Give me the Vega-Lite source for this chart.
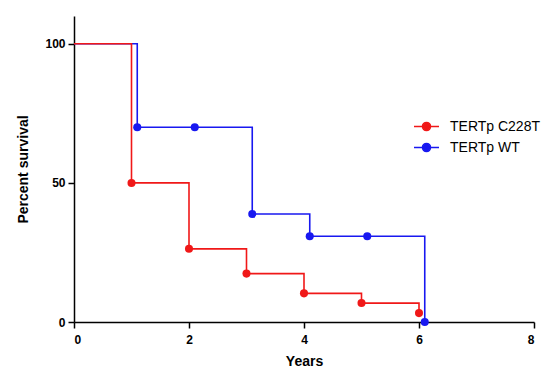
{
  "$schema": "https://vega.github.io/schema/vega-lite/v6.json",
  "width": 460,
  "height": 306,
  "autosize": {"type": "none"},
  "padding": {"left": 74, "top": 16, "right": 24, "bottom": 49},
  "background": "white",
  "config": {
    "view": {"stroke": null},
    "font": "Liberation Sans",
    "axis": {
      "grid": false,
      "domainColor": "black",
      "domainWidth": 1.5,
      "tickColor": "black",
      "tickWidth": 1.5,
      "tickSize": 6,
      "labelFont": "Liberation Sans",
      "labelFontWeight": "bold",
      "labelFontSize": 12,
      "labelColor": "black",
      "titleFont": "Liberation Sans",
      "titleFontWeight": "bold",
      "titleFontSize": 14,
      "titleColor": "black"
    }
  },
  "data": {
    "values": [
      {"group": "TERTp WT", "x": 0, "y": 100, "pt": false},
      {"group": "TERTp WT", "x": 1.1, "y": 70, "pt": true},
      {"group": "TERTp WT", "x": 2.1, "y": 70, "pt": true},
      {"group": "TERTp WT", "x": 3.1, "y": 38.8, "pt": true},
      {"group": "TERTp WT", "x": 4.1, "y": 30.8, "pt": true},
      {"group": "TERTp WT", "x": 5.1, "y": 30.8, "pt": true},
      {"group": "TERTp WT", "x": 6.1, "y": 0, "pt": true},
      {"group": "TERTp C228T", "x": 0, "y": 100, "pt": false},
      {"group": "TERTp C228T", "x": 1, "y": 50, "pt": true},
      {"group": "TERTp C228T", "x": 2, "y": 26.3, "pt": true},
      {"group": "TERTp C228T", "x": 3, "y": 17.4, "pt": true},
      {"group": "TERTp C228T", "x": 4, "y": 10.3, "pt": true},
      {"group": "TERTp C228T", "x": 5, "y": 6.8, "pt": true},
      {"group": "TERTp C228T", "x": 6, "y": 3.2, "pt": true}
    ]
  },
  "encoding": {
    "x": {
      "field": "x", "type": "quantitative",
      "scale": {"domain": [0, 8], "nice": false, "zero": false},
      "axis": {"values": [0, 2, 4, 6, 8], "title": "Years", "titlePadding": 9, "labelPadding": 6}
    },
    "y": {
      "field": "y", "type": "quantitative",
      "scale": {"domain": [0, 110], "nice": false},
      "axis": {"values": [0, 50, 100], "title": "Percent survival", "titlePadding": 14, "labelPadding": 3}
    },
    "color": {
      "field": "group", "type": "nominal",
      "scale": {"domain": ["TERTp C228T", "TERTp WT"], "range": ["#f01818", "#1818f0"]},
      "legend": {
        "title": null,
        "orient": "none",
        "legendX": 339,
        "legendY": 97,
        "symbolType": "M-1,0L1,0M-0.32,0A0.32,0.32 0 1,1 0.32,0A0.32,0.32 0 1,1 -0.32,0Z",
        "symbolSize": 625,
        "symbolStrokeWidth": 1.6,
        "labelFontSize": 14,
        "labelFont": "Liberation Sans",
        "labelColor": "black",
        "labelOffset": 10,
        "rowPadding": 0,
        "padding": 0
      }
    }
  },
  "layer": [
    {
      "mark": {"type": "line", "interpolate": "step-after", "strokeWidth": 1.6}
    },
    {
      "transform": [{"filter": "datum.pt"}],
      "mark": {"type": "point", "filled": true, "size": 65, "opacity": 1}
    }
  ]
}
